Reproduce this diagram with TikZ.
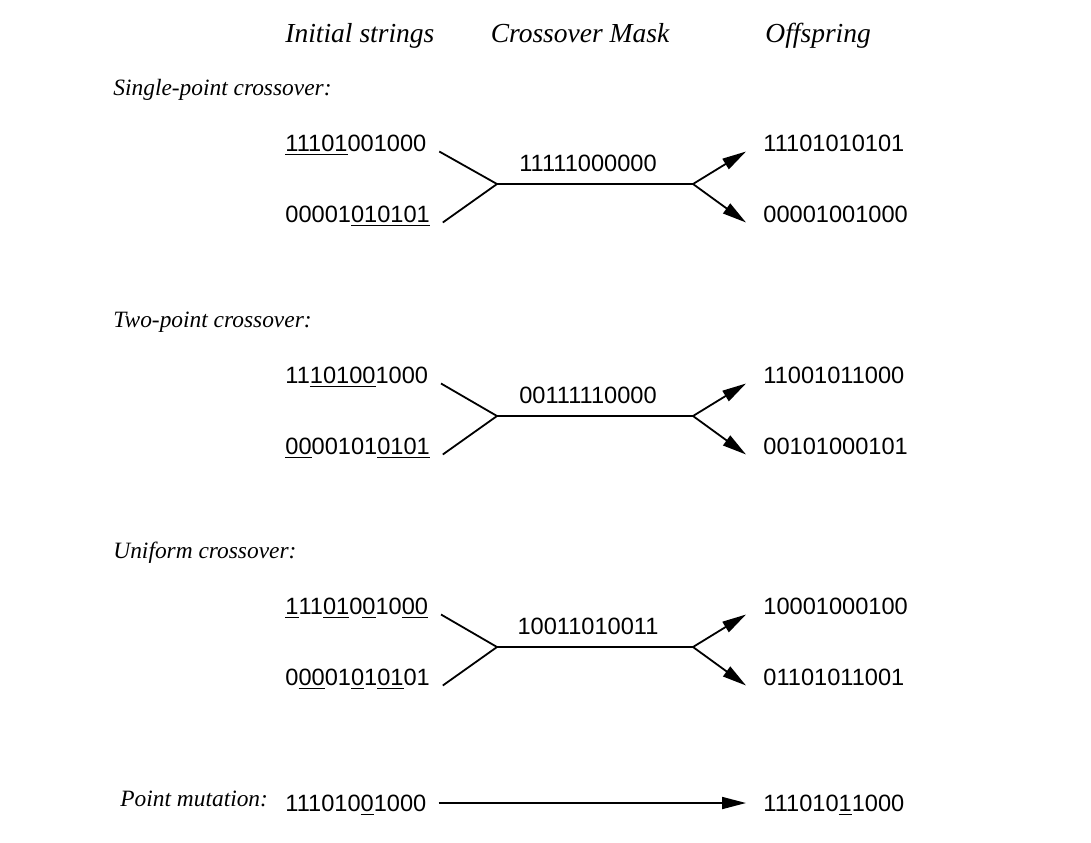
\documentclass[tikz,border=0pt]{standalone}
\usepackage{fontspec}
\setmainfont{Liberation Serif}
\newfontfamily\bitfont{Liberation Sans}
\usetikzlibrary{arrows.meta,positioning}
\tikzset{
  bits/.style={inner sep=0pt, anchor=base west, text height=8.5pt, text depth=0pt, font=\bitfont\fontsize{11.8}{14}\selectfont},
  heading/.style={inner sep=0pt, anchor=base west, font=\itshape\fontsize{13.75}{16}\selectfont},
  rowlabel/.style={inner sep=0pt, anchor=base west, font=\itshape\fontsize{11.7}{14}\selectfont},
  link/.style={line width=0.9pt},
  child/.style={line width=0.9pt, -{Triangle[length=12pt,width=6pt]}}
}
\newcommand{\bitmark}[1]{\underline{#1}}
\begin{document}
\begin{tikzpicture}[x=0.5pt,y=-0.5pt]
	\useasboundingbox (0,0) rectangle (1091,842);
	\node (hinit) [heading] at (285,42) {Initial strings};
	\node (hmask) [heading, anchor=base] at (580,42) {Crossover Mask};
	\node (hoff) [heading] at (765,42) {Offspring};
	% single-point
	\node (lab1) [rowlabel] at (113,95) {Single-point crossover:};
	\node (s1a) [bits] at (285,151.5) {\bitmark{11101}001000};
	\node (s1b) [bits] at (285,222.5) {00001\bitmark{010101}};
	\coordinate (j1l) at (497,184);
	\coordinate (j1r) at (693,184);
	\node (m1) [bits, anchor=base] at (588,171) {11111000000};
	\node (o1a) [bits] at (763,151.5) {11101010101};
	\node (o1b) [bits] at (763,222.5) {00001001000};
	\draw [link] ([xshift=6.3pt]s1a.base east) -- (j1l) -- (j1r);
	\draw [link] ([xshift=6.3pt]s1b.base east) -- (j1l);
	\draw [child] (j1r) -- ([xshift=-8.5pt]o1a.base west);
	\draw [child] (j1r) -- ([xshift=-8.5pt]o1b.base west);
	% two-point
	\node (lab2) [rowlabel] at (113,327) {Two-point crossover:};
	\node (s2a) [bits] at (285,383.5) {11\bitmark{10100}1000};
	\node (s2b) [bits] at (285,454.5) {\bitmark{00}00101\bitmark{0101}};
	\coordinate (j2l) at (497,416);
	\coordinate (j2r) at (693,416);
	\node (m2) [bits, anchor=base] at (588,403) {00111110000};
	\node (o2a) [bits] at (763,383.5) {11001011000};
	\node (o2b) [bits] at (763,454.5) {00101000101};
	\draw [link] ([xshift=6.3pt]s2a.base east) -- (j2l) -- (j2r);
	\draw [link] ([xshift=6.3pt]s2b.base east) -- (j2l);
	\draw [child] (j2r) -- ([xshift=-8.5pt]o2a.base west);
	\draw [child] (j2r) -- ([xshift=-8.5pt]o2b.base west);
	% uniform
	\node (lab3) [rowlabel] at (113,558) {Uniform crossover:};
	\node (s3a) [bits] at (285,614.5) {\bitmark{1}11\bitmark{01}0\bitmark{0}10\bitmark{00}};
	\node (s3b) [bits] at (285,685.5) {0\bitmark{00}01\bitmark{0}1\bitmark{01}01};
	\coordinate (j3l) at (497,647);
	\coordinate (j3r) at (693,647);
	\node (m3) [bits, anchor=base] at (588,634) {10011010011};
	\node (o3a) [bits] at (763,614.5) {10001000100};
	\node (o3b) [bits] at (763,685.5) {01101011001};
	\draw [link] ([xshift=6.3pt]s3a.base east) -- (j3l) -- (j3r);
	\draw [link] ([xshift=6.3pt]s3b.base east) -- (j3l);
	\draw [child] (j3r) -- ([xshift=-8.5pt]o3a.base west);
	\draw [child] (j3r) -- ([xshift=-8.5pt]o3b.base west);
	% mutation
	\node (lab4) [rowlabel] at (120,806) {Point mutation:};
	\node (pma) [bits] at (285,811.5) {111010\bitmark{0}1000};
	\node (pmb) [bits] at (763,811.5) {111010\bitmark{1}1000};
	\draw [child] ([xshift=6pt]pma.east) -- ([xshift=-8.5pt]pmb.west);
\end{tikzpicture}
\end{document}
